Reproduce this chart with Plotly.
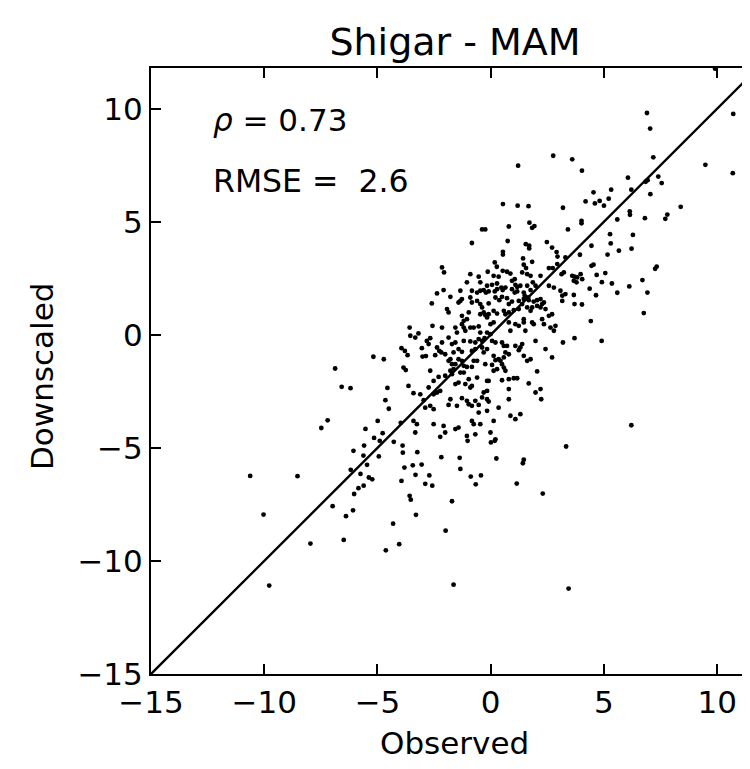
import plotly.graph_objects as go

# Observed (x) and Downscaled (y) values
observed = [
    6.90, 7.04, 10.71, 7.18, 9.48, 10.69, 4.03, 6.06, 7.40, 7.55, 6.93, 6.84, 6.21, 7.05, 5.32, 4.54, 4.19, 4.60, 4.81, 5.00,
    5.21, 8.39, 6.14, 6.15, 5.59, 6.81, 7.80, 7.71, 4.01, 4.01, 5.27, 6.28, 4.45, 5.30, 6.22, 5.66, 5.16, 3.94, 9.91,
    4.45, 4.54, 7.26, 7.33, 3.97, 4.04, 4.68, 5.06, 4.91, 5.35, 6.70, 6.12, 4.37, 4.65, 5.59, 6.92, 4.03, 6.76, 4.42, 4.90, 6.21,
    2.76, 3.60, 1.21, 0.54, 1.19, 1.67, 3.19, -0.38, -0.24, 0.80, 1.71, 1.83, 1.93, 3.41, -0.83, 0.75, 1.55, 1.70, 1.70, 2.48,
    2.71, 2.91, 2.95, 0.54, 0.54, 1.43, 3.30,
    -3.94, -3.79, -3.67, -5.18, -4.72, -6.87, -3.85, -3.75, -6.58, -6.19, -4.56, -4.65, -4.50, -7.20, -7.48, -4.99, -5.53, -3.97, -5.15, -4.77,
    -10.62, -8.53, -10.03, -9.78, -7.96, -6.98, -6.49, -6.39, -6.08, -6.03, -5.84, -5.61, -6.18, -5.75, -6.06, -5.59, -5.62, -5.46, -5.38, -5.23,
    -4.94, -4.90, -4.28, -3.89, -3.88, -3.81, -3.94, -4.31, -4.04, -4.63,
    -3.24, -3.44, -3.05, -3.32, -2.71, -2.89, -2.58, -3.58, -3.53, -3.30, -1.99, -1.71, -2.18, -1.37, -1.34, -0.88, -0.43, -0.66, 0.25, -1.02,
    0.01, 0.18, 1.46, 1.42, 1.15, 2.30, 3.33, -1.64, 3.44,
    -2.15, -2.06, -0.90, -0.53, -0.13, 0.13, 0.35, 0.53, 0.72, 0.87, 0.18, 0.27, 1.46, 1.56, 1.83, 1.39, 1.61, 1.76, 2.20, 2.57,
    2.74, 2.94, 3.13, 3.23, 3.60, 3.70, 3.82, 3.67, 3.79, -1.05, -0.46, -0.16, 0.06, 0.28, 0.47, 0.94, 1.06, 1.09, 1.17, 1.31,
    1.61, 1.86, 1.98, -2.08, -2.37, -1.78, -1.34, -0.83, -0.60, -0.46, -0.31, -0.21, -0.09, 0.18, 0.28, 0.53, 0.65, 0.94, 1.06, 1.17,
    1.46, 1.50, 1.65, 1.76, 2.57, 2.79, 3.08, 3.16, 3.30, 3.67, 3.70, -2.60, -1.93, -1.86, -1.42, -1.34, -1.27, -0.90, -0.83, -0.60,
    -0.46, -0.09, 0.21, 0.38, 0.50, 0.72, 0.80, 0.94, 1.24, 1.39, 1.46, 1.68, 1.90, 2.05, 2.20, 2.35, 1.61, 1.76, 1.83, 2.05,
    2.20, 2.27, 2.71, 3.16, -0.38, -0.31, -0.24, -0.46, -0.09, -0.16, -1.27, -1.19, -1.05, -0.97, 0.13, 0.28, 0.58, 0.65, 0.80, 1.02,
    1.24, 1.46, 2.42, 2.57, -2.15, -2.57, -1.56, -1.49, -1.27, -1.19, -1.12, -0.90, -0.75, -0.53, -0.46, -0.01, 0.13, 0.80, 0.87, 1.09,
    1.24, 1.46, 1.53, 1.83, 1.90, 2.27, 2.35, 2.64, 2.79, 2.86, -3.58, -3.55, -3.33, -3.19, -2.82, -2.67, -2.74, -2.15, -1.86, -1.71,
    -1.56, -1.19, -0.90, -0.68, -0.53, -0.38, -0.27, -0.16, -0.01, 0.06, 0.21, 0.50, 0.58, 0.72, 1.09, 1.31, 1.39, 1.98, 2.42, 3.19,
    3.70, -3.04, -3.01, -2.86, -2.45, -2.37, -2.27, -2.18, -2.01, -1.64, -1.42, -1.27, -0.83, -0.68, -0.38, -0.31, -0.16, 0.13, 0.21, 0.35,
    0.58, 0.65, 0.80, 1.24, 1.46, 1.61, 1.76, 2.71, -1.86, -1.78, -1.71, -1.56, -1.42, -1.27, -1.19, -1.05, -0.83, -0.75, -0.60, -0.24,
    0.06, 0.43, 0.50, 0.58, 0.65, -2.67, -2.52, -2.30, -2.01, -1.78, -1.71, -1.64, -1.34, -1.19, -0.97, -0.60, -0.16, -0.09, 0.13, 0.28,
    0.50, 0.80, 1.02, 1.17, 2.05, -3.63, -2.74, -2.52, -2.37, -2.23, -1.56, -1.42, -1.12, -0.90, -0.83, -0.31, -0.16, 0.80, 1.68, 1.98,
    2.20, -3.41, -3.11, -2.96, -2.89, -2.67, -2.52, -1.78, -1.86, -1.49, -1.27, -1.05, -0.97, -0.83, -0.68, -0.53, -0.38, -0.16, -0.09, 0.35,
    0.80, 2.23, -0.53, -0.16, 0.87, 1.09, 1.31, -3.41, -3.26, -3.33, -2.52, -2.08, -0.83, -0.75, -0.46, 0.13, -2.23, -2.01, -1.56, -1.42,
    -1.05, -0.68, -0.01, 0.21,
]
downscaled = [
    9.81, 9.12, 9.77, 7.85, 7.52, 7.15, 7.26, 6.95, 7.00, 6.71, 6.84, 6.77, 6.42, 6.22, 6.42, 6.30, 5.90, 5.81, 5.92, 5.71,
    6.02, 5.66, 5.46, 5.31, 5.10, 5.16, 5.32, 5.13, 5.04, 4.93, 4.45, 4.42, 3.94, 4.04, 3.81, 3.72, 3.55, 3.54, 11.77,
    3.05, 3.10, 2.92, 3.02, 2.68, 2.46, 2.65, 2.73, 2.33, 2.27, 2.42, 2.14, 2.04, 1.75, 1.86, 1.87, 1.34, 0.96, 0.61, -0.27, -4.00,
    7.92, 7.76, 7.48, 5.78, 5.71, 5.69, 5.62, 4.66, 4.66, 4.79, 4.96, 4.73, 4.81, 4.66, 4.06, 4.15, 4.01, 3.94, 3.82, 4.10,
    3.86, 3.66, 3.46, 3.67, 3.55, 3.38, 3.42,
    -0.59, -0.71, -0.90, -0.97, -1.08, -1.49, -1.45, -1.56, -2.30, -2.36, -2.35, -2.89, -3.27, -3.78, -4.12, -3.81, -4.16, -3.89, -4.56, -4.35,
    -6.24, -6.25, -7.95, -11.09, -9.23, -7.58, -9.07, -8.02, -7.76, -7.04, -6.78, -6.67, -5.97, -6.15, -5.13, -4.90, -5.34, -5.75, -6.31, -6.39,
    -5.38, -4.69, -4.73, -4.90, -5.21, -5.87, -6.46, -8.35, -9.26, -9.53,
    -5.19, -5.77, -5.74, -6.19, -6.22, -6.59, -6.67, -7.12, -7.29, -7.96, -8.66, -7.36, -5.41, -5.44, -5.93, -6.27, -6.22, -6.61, -5.47, -4.69,
    -4.76, -4.69, -5.52, -5.68, -6.58, -7.02, -4.94, -11.05, -11.22,
    2.98, 2.76, 2.68, 2.57, 2.79, 2.61, 2.57, 2.83, 2.79, 2.71, 3.20, 3.01, 3.10, 2.95, 3.23, 2.76, 2.68, 2.61, 2.61, 2.95,
    2.95, 3.13, 2.68, 2.76, 2.61, 2.57, 2.54, 2.39, 2.32, 2.32, 2.32, 2.17, 2.21, 2.27, 2.09, 2.39, 2.46, 2.21, 2.12, 2.17,
    2.17, 2.32, 2.17, 1.98, 1.83, 1.68, 1.95, 1.95, 1.87, 1.95, 1.98, 1.87, 1.92, 1.92, 2.02, 1.98, 2.09, 2.02, 1.87, 1.92,
    1.87, 1.73, 1.65, 1.98, 2.17, 2.09, 1.95, 1.73, 1.80, 1.76, 1.36, 1.39, 1.14, 0.99, 1.43, 1.50, 1.58, 1.65, 1.43, 1.50,
    1.36, 1.39, 1.65, 1.53, 1.68, 1.62, 1.36, 1.47, 1.50, 1.36, 1.58, 1.53, 1.47, 1.53, 1.58, 1.43, 1.21, 1.06, 1.21, 1.28,
    1.21, 1.36, 0.91, 1.50, 1.21, 0.99, 0.88, 0.91, 0.91, 0.77, 0.84, 0.62, 0.69, 0.99, 1.06, 0.94, 1.06, 0.91, 0.99, 1.09,
    1.14, 0.69, 1.14, 0.84, 0.32, 0.40, 0.32, 0.10, 0.47, 0.32, 0.18, 0.32, 0.32, 0.37, 0.10, 0.47, 0.55, 0.55, 0.18, 0.47,
    0.40, 0.55, 0.18, 0.55, 0.47, 0.69, 0.47, 0.32, 0.18, 0.40, 0.32, -0.04, -0.12, 0.06, -0.27, -0.15, -0.41, -0.34, -0.12, -0.41,
    -0.34, -0.27, -0.29, -0.34, -0.19, -0.27, -0.15, 0.10, 0.03, -0.27, -0.34, -0.34, -0.49, -0.49, -0.49, -0.56, -0.41, -0.27, -0.63, -0.34,
    -0.15, -0.59, -0.96, -0.94, -0.90, -0.56, -0.71, -0.78, -0.86, -0.78, -0.63, -0.75, -0.71, -0.63, -0.56, -0.78, -0.63, -0.93, -1.12, -1.08,
    -1.00, -0.78, -0.86, -0.68, -0.93, -1.15, -1.08, -1.00, -1.15, -1.08, -1.30, -1.30, -1.08, -1.15, -1.37, -1.42, -1.42, -1.15, -1.15, -1.30,
    -1.33, -1.15, -1.30, -1.45, -1.59, -1.59, -2.04, -1.86, -1.81, -1.59, -1.74, -1.52, -1.67, -1.67, -1.96, -1.89, -2.04, -2.04, -1.59, -1.52,
    -2.01, -1.96, -1.92, -1.92, -1.62, -2.26, -2.33, -2.63, -2.55, -2.48, -2.18, -2.11, -2.18, -2.33, -2.26, -2.55, -2.48, -2.40, -2.15, -2.55,
    -2.40, -2.58, -2.63, -2.89, -3.22, -3.14, -3.29, -2.85, -3.10, -3.14, -2.80, -2.92, -3.07, -3.14, -2.92, -3.10, -2.77, -2.85, -2.95, -3.22,
    -2.85, -2.85, -3.44, -3.36, -3.58, -3.73, -3.51, -3.81, -3.95, -4.32, -3.95, -4.03, -3.81, -3.95, -3.95, -3.81, -4.51, -4.32, -4.17, -4.10,
    -4.47, -4.40, -4.32, -4.62,
]
line_ends = [-15, 12]
tick_vals = [-15, -10, -5, 0, 5, 10]
tick_text = ["\u221215", "\u221210", "\u22125", "0", "5", "10"]
title_text = "Shigar - MAM"
x_label = "Observed"
y_label = "Downscaled"
rho_text = "<i>\u03c1</i> = 0.73"
rmse_text = "RMSE =\u00a0\u00a02.6"

FONT = "DejaVu Sans"
FIG_W, FIG_H = 742, 753          # page body adds an 8px offset
PLOT_L, PLOT_T, PLOT_W, PLOT_H = 143, 60, 599, 606

fig = go.Figure()
fig.add_trace(go.Scatter(x=line_ends, y=line_ends, mode="lines",
                         line=dict(color="black", width=2.4), hoverinfo="skip",
                         showlegend=False))
fig.add_trace(go.Scatter(x=observed, y=downscaled, mode="markers",
                         marker=dict(color="black", size=4.8, line=dict(width=0)),
                         showlegend=False))

axis_common = dict(
    tickvals=tick_vals, ticktext=tick_text, ticks="inside", ticklen=10, tickwidth=1.5,
    tickcolor="black", showline=True, linecolor="black", linewidth=2,
    showgrid=False, zeroline=False, tickfont=dict(family=FONT, size=31, color="black"),
)
fig.update_xaxes(range=[-15, 11.45], mirror="ticks", **axis_common)
fig.update_yaxes(range=[-15, 11.8], mirror=False, **axis_common)

fig.update_layout(
    width=FIG_W, height=FIG_H,
    margin=dict(l=PLOT_L, r=FIG_W - PLOT_L - PLOT_W, t=PLOT_T, b=FIG_H - PLOT_T - PLOT_H),
    plot_bgcolor="white", paper_bgcolor="white",
    font=dict(family=FONT, color="black"),
    title=dict(text=title_text, xref="container", x=447 / FIG_W, xanchor="center",
               yref="container", y=1 - 34 / FIG_H, yanchor="middle",
               font=dict(family=FONT, size=38, color="black")),
    annotations=[
        dict(text=x_label, xref="paper", yref="paper", x=0.5075, y=-0.1139,
             xanchor="center", yanchor="middle", showarrow=False,
             font=dict(family=FONT, size=31, color="black")),
        dict(text=y_label, xref="paper", yref="paper", x=-0.182, y=0.4917,
             xanchor="center", yanchor="middle", textangle=-90, showarrow=False,
             font=dict(family=FONT, size=31, color="black")),
        dict(text=rho_text, xref="x", yref="y", x=-12.35, y=9.51,
             xanchor="left", yanchor="middle", showarrow=False,
             font=dict(family=FONT, size=31, color="black")),
        dict(text=rmse_text, xref="x", yref="y", x=-12.35, y=6.81,
             xanchor="left", yanchor="middle", showarrow=False,
             font=dict(family=FONT, size=31.5, color="black")),
    ],
)

fig.write_html("out.html")
